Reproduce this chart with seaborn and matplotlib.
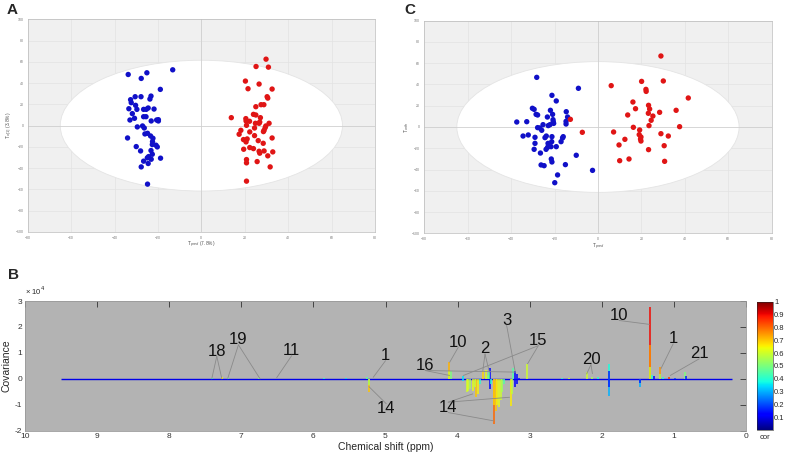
import matplotlib
matplotlib.use("Agg")
import matplotlib.pyplot as plt
import numpy as np
import pandas as pd
import seaborn as sns
from matplotlib.patches import Ellipse

# ---- panel A scores (predictive vs orthogonal) ----
a_blue_x = [-33.7, -25.1, -13.2, -27.7, -18.9, -30.5, -27.8, -23.2, -23.7, -32.6, -32.3, -30.3, -33.4,
            -29.7, -26.6, -25.4, -24.5, -21.8, -31.8, -30.8, -32.9, -26.6, -25.5, -23.1, -20.6, -19.8,
            -19.8, -29.5, -27.1, -26.3, -34.0, -26.0, -24.8, -23.4, -22.3, -22.5, -22.6, -20.9, -20.3,
            -30.0, -28.0, -23.2, -22.6, -24.3, -24.9, -23.1, -18.8, -26.6, -24.5, -27.7, -24.8]
a_blue_y = [48.1, 49.7, 52.5, 44.4, 34.1, 27.2, 27.2, 27.8, 25.0, 24.4, 21.6, 19.1, 15.9,
            15.3, 15.3, 15.3, 16.6, 15.6, 11.3, 6.9, 5.3, 8.4, 8.4, 4.4, 5.3, 5.6,
            4.4, -1.2, -0.3, -2.2, -11.6, -7.8, -7.2, -9.7, -11.9, -15.0, -17.8, -18.4, -20.0,
            -19.7, -23.8, -23.4, -26.9, -29.1, -30.3, -31.6, -30.6, -33.4, -35.6, -38.8, -55.0]
a_red_x = [29.8, 25.2, 30.9, 20.3, 21.5, 26.6, 32.6, 30.3, 30.6, 25.1, 27.5, 28.8, 24.0, 25.1,
           13.8, 20.5, 20.6, 22.2, 27.2, 24.9, 26.6, 26.9, 31.2, 20.8, 29.7, 29.4, 24.5, 28.9,
           28.6, 18.2, 22.3, 17.4, 24.5, 19.4, 20.6, 26.2, 21.1, 32.6, 28.5, 19.5, 22.3, 24.0,
           26.6, 26.9, 28.9, 32.9, 30.6, 20.8, 20.8, 25.7, 31.7, 20.8]
a_red_y = [62.5, 55.6, 55.0, 41.9, 34.7, 39.1, 34.4, 27.2, 25.9, 17.8, 19.7, 19.7, 10.6, 10.0,
           7.5, 6.6, 4.4, 4.1, 7.5, 2.2, 2.2, 3.4, 2.2, 0.3, -0.3, -1.9, -2.2, -4.4,
           -5.6, -4.4, -5.9, -8.1, -9.4, -13.1, -15.3, -14.1, -12.5, -11.6, -16.6, -22.2, -20.6, -21.6,
           -24.1, -25.9, -23.8, -24.7, -28.4, -31.9, -35.0, -33.8, -38.8, -52.2]

# ---- panel C scores ----
c_blue_x = [-28.2, -9.0, -21.2, -19.2, -30.2, -29.4, -21.9, -14.6, -28.5, -27.8, -20.9, -23.3, -14.0,
            -37.4, -32.8, -20.7, -20.6, -14.7, -14.7, -20.4, -22.1, -22.9, -25.3, -27.8, -26.8, -25.9,
            -34.5, -32.1, -29.0, -24.4, -23.8, -21.2, -16.0, -16.3, -21.3, -23.0, -17.0, -29.0, -29.4,
            -23.9, -23.2, -21.6, -19.2, -26.5, -10.0, -21.5, -21.2, -26.2, -24.8, -15.0, -18.6, -2.5, -19.9]
c_blue_y = [46.7, 36.4, 29.8, 24.5, 17.6, 16.6, 15.7, 14.4, 11.9, 11.3, 11.9, 9.4, 9.4,
            4.7, 5.0, 6.9, 5.0, 5.3, 2.8, 3.4, 2.2, 1.3, 2.2, -0.6, -0.9, -3.1,
            -8.5, -7.5, -9.7, -10.0, -8.5, -9.1, -9.1, -10.3, -13.8, -15.4, -13.8, -15.4, -21.0,
            -21.0, -19.1, -18.5, -18.5, -24.5, -26.6, -30.1, -32.9, -35.7, -36.4, -35.4, -45.1, -40.8, -52.4]
c_red_x = [29.0, 20.1, 30.1, 6.1, 22.1, 22.2, 41.6, 16.1, 23.3, 17.3, 23.8, 36.0, 28.4, 23.2,
           13.7, 25.3, 24.5, -12.7, 23.5, 16.3, 37.6, 7.2, -7.2, 19.2, 29.0, 19.0, 32.4, 19.8,
           19.6, 19.8, 12.4, 9.7, 30.5, 23.3, 14.3, 10.0, 30.7]
c_red_y = [66.8, 42.9, 43.3, 38.9, 35.4, 33.5, 27.3, 23.5, 20.4, 17.2, 16.9, 15.7, 13.8, 12.9,
           11.3, 10.3, 6.3, 7.2, 1.3, -0.3, 0.3, -4.7, -5.0, -2.8, -6.3, -7.2, -8.5, -9.4,
           -11.3, -13.2, -11.6, -16.9, -17.6, -21.3, -30.1, -31.7, -32.3]

# ---- panel B: colour-coded covariance (units of 1e4) ----
peak_ppm = [7.41, 7.27, 7.18, 6.75, 5.85, 5.55, 5.26, 5.23, 5.23,
            4.115, 4.115, 4.09, 3.92, 3.92,
            3.87, 3.85, 3.83, 3.79, 3.76, 3.74, 3.72, 3.69,
            3.65, 3.60, 3.58, 3.56, 3.55, 3.55, 3.53,
            3.50, 3.50, 3.47, 3.45, 3.42, 3.40, 3.38, 3.36,
            3.26, 3.25, 3.23, 3.21, 3.21, 3.18, 3.17, 3.15,
            3.04, 2.55, 2.45, 2.20, 2.13, 2.05,
            1.90, 1.90, 1.90, 1.90, 1.47, 1.47,
            1.325, 1.325, 1.325, 1.30, 1.28,
            1.19, 1.19, 1.15, 1.07, 0.98, 0.85, 0.83]
peak_cov = [0.04, 0.06, 0.04, 0.05, 0.05, 0.03, 0.08, -0.52, -0.25,
            0.64, 0.30, 0.32, 0.12, -0.10,
            -0.52, -0.45, -0.40, -0.46, -0.30, -0.71, -0.60, -0.20,
            0.32, 0.33, 0.15, 0.28, 0.40, -0.40, -0.20,
            -1.74, -1.00, -1.23, -1.00, -1.10, -0.80, -0.50, -0.20,
            -1.03, -0.60, 0.40, 0.30, -0.30, 0.20, -0.20, 0.05,
            0.58, 0.04, 0.03, 0.26, 0.08, 0.06,
            0.58, -0.65, 0.30, -0.30, -0.32, -0.15,
            2.78, 1.30, 0.45, 0.15, 0.10,
            0.45, 0.20, 0.06, 0.09, 0.04, 0.26, 0.10]
peak_cor = [0.40, 0.65, 0.45, 0.50, 0.40, 0.35, 0.45, 0.70, 0.55,
            0.72, 0.60, 0.50, 0.35, 0.35,
            0.60, 0.62, 0.55, 0.63, 0.60, 0.70, 0.65, 0.40,
            0.68, 0.62, 0.50, 0.45, 0.12, 0.12, 0.40,
            0.80, 0.68, 0.70, 0.65, 0.63, 0.60, 0.55, 0.45,
            0.66, 0.58, 0.45, 0.12, 0.12, 0.12, 0.12, 0.15,
            0.60, 0.40, 0.60, 0.60, 0.55, 0.40,
            0.38, 0.30, 0.15, 0.15, 0.30, 0.15,
            0.90, 0.75, 0.60, 0.40, 0.12,
            0.75, 0.55, 0.40, 0.85, 0.20, 0.50, 0.15]

# metabolite labels: text, text position, list of line targets (ppm, cov)
labels = [
    ("18", (7.34, 1.07), [(7.41, 0.0), (7.27, 0.0)]),
    ("19", (7.04, 1.51), [(7.19, 0.0), (6.74, 0.0)]),
    ("11", (6.30, 1.10), [(6.51, 0.04)]),
    ("1", (5.00, 0.90), [(5.17, 0.06)]),
    ("14", (4.99, -1.16), [(5.23, -0.30)]),
    ("16", (4.45, 0.52), [(4.11, 0.13), (3.20, 0.26)]),
    ("10", (3.99, 1.42), [(4.11, 0.64)]),
    ("2", (3.62, 1.16), [(3.65, 0.32), (3.56, 0.26)]),
    ("3", (3.32, 2.26), [(3.20, 0.26)]),
    ("15", (2.88, 1.48), [(3.92, 0.13), (3.03, 0.58)]),
    ("14", (4.13, -1.10), [(3.79, -0.58), (3.28, -0.71), (3.50, -1.62)]),
    ("20", (2.15, 0.75), [(2.21, 0.19), (2.13, 0.20)]),
    ("10", (1.76, 2.45), [(1.34, 2.10)]),
    ("1", (1.01, 1.55), [(1.18, 0.39)]),
    ("21", (0.65, 0.97), [(1.05, 0.13)]),
]

sns.set_style("white")
plt.rcParams['font.family'] = ['Liberation Sans', 'DejaVu Sans']

fig = plt.figure(figsize=(7.87, 4.53), dpi=100)


def score_panel(rect, bx, by, rx, ry, xlab, ylab):
    ax = fig.add_axes(rect)
    ax.set_facecolor('#f0f0f0')
    ax.set_xlim(-80, 80)
    ax.set_ylim(-100, 100)
    ax.set_xticks(np.arange(-80, 81, 20))
    ax.set_yticks(np.arange(-100, 101, 20))
    ax.grid(True, color='#e2e2e2', lw=0.5, zorder=0)
    ax.set_axisbelow(True)
    ax.add_patch(Ellipse((0, 0), 130, 123, facecolor='white', edgecolor='#e4e4e4', lw=0.6, zorder=1))
    ax.axhline(0, color='#d0d0d0', lw=0.6, zorder=2)
    ax.axvline(0, color='#d0d0d0', lw=0.6, zorder=2)
    df = pd.DataFrame({
        'x': bx + rx,
        'y': by + ry,
        'group': ['blue'] * len(bx) + ['red'] * len(rx),
    })
    sns.scatterplot(data=df, x='x', y='y', hue='group',
                    palette={'blue': '#1010c8', 'red': '#e01515'},
                    s=15, edgecolor='none', legend=False, ax=ax, zorder=3)
    ax.tick_params(labelsize=2.5, colors='#777777', length=2, width=0.4, pad=1)
    ax.set_xlabel(xlab, fontsize=3.5, color='#555555', labelpad=0)
    ax.set_ylabel(ylab, fontsize=3.5, color='#555555', labelpad=1)
    for s in ax.spines.values():
        s.set_color('#bbbbbb')
        s.set_linewidth(0.5)
    return ax


score_panel([0.0352, 0.4879, 0.4413, 0.4695], a_blue_x, a_blue_y, a_red_x, a_red_y,
            'T$_{pred}$ (7.8%)', 'T$_{o[1]}$ (3.8%)')
score_panel([0.5391, 0.4850, 0.4414, 0.4693], c_blue_x, c_blue_y, c_red_x, c_red_y,
            'T$_{pred}$', 'T$_{orth}$')

fig.text(0.008, 0.978, 'A', fontsize=11, fontweight='bold', va='center')
fig.text(0.514, 0.978, 'C', fontsize=11, fontweight='bold', va='center')
fig.text(0.010, 0.392, 'B', fontsize=11, fontweight='bold', va='center')

# ---- panel B ----
axb = fig.add_axes([0.0318, 0.0492, 0.9161, 0.2863])
axb.set_facecolor('#b3b3b3')
cmap = plt.get_cmap('jet')
axb.hlines(0, 9.5, 0.2, color=cmap(0.09), lw=1.0, zorder=2)
order = np.argsort(-np.abs(np.array(peak_cov)))
ppm = np.array(peak_ppm)[order]
cov = np.array(peak_cov)[order] * 1e4
cor = np.array(peak_cor)[order]
axb.vlines(ppm, 0, cov, colors=cmap(cor), lw=1.1, zorder=3)

for txt, (tx, ty), targets in labels:
    axb.text(tx, ty * 1e4, txt, fontsize=12, ha='center', va='center', color='#111111', zorder=5)
    for (px, py) in targets:
        sy = ty - 0.2 if py < ty else ty + 0.2
        axb.plot([tx, px], [sy * 1e4, py * 1e4], color='#8a8a8a', lw=0.6, zorder=4)

axb.set_xlim(10, 0)
axb.set_ylim(-2e4, 3e4)
axb.set_xticks(np.arange(0, 11, 1))
axb.set_xticklabels([str(v) for v in range(0, 11)])
axb.set_yticks(np.arange(-2e4, 3.1e4, 1e4))
axb.set_yticklabels([str(v) for v in range(-2, 4)])
axb.tick_params(direction='in', top=True, right=True, labelsize=6, length=4, width=0.6,
                colors='#333333', pad=2)
axb.set_xlabel('Chemical shift (ppm)', fontsize=7.5, labelpad=1)
axb.set_ylabel('Covariance', fontsize=7.5, labelpad=2)
axb.text(0.0, 1.03, '× 10$^4$', transform=axb.transAxes, fontsize=5.5, ha='left', va='bottom')
for s in axb.spines.values():
    s.set_color('#999999')
    s.set_linewidth(0.6)

cax = fig.add_axes([0.9622, 0.0508, 0.0196, 0.2832])
sm = plt.cm.ScalarMappable(cmap=cmap, norm=plt.Normalize(0, 1))
cb = fig.colorbar(sm, cax=cax, ticks=[0.1, 0.2, 0.3, 0.4, 0.5, 0.6, 0.7, 0.8, 0.9, 1.0])
cb.ax.set_yticklabels(['0.1', '0.2', '0.3', '0.4', '0.5', '0.6', '0.7', '0.8', '0.9', '1'])
cb.ax.tick_params(labelsize=5.5, length=0, pad=1)
cb.outline.set_linewidth(0.4)
cb.ax.set_xlabel('cor', fontsize=5.5, labelpad=3)

fig.savefig('out.png', dpi=100)
